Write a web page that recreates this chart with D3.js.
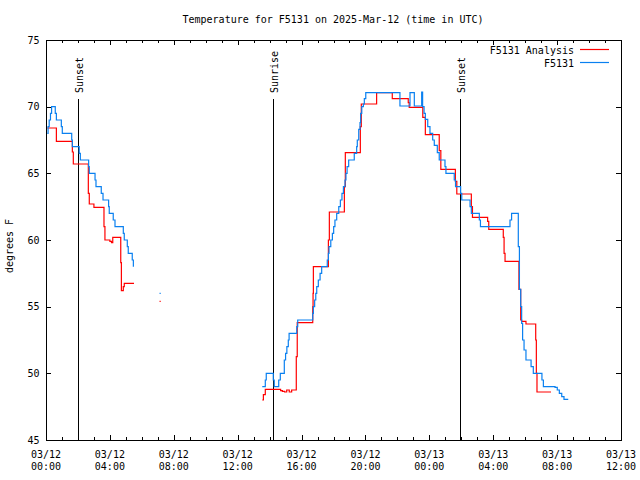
<!DOCTYPE html>
<html><head><meta charset="utf-8">
<script src="https://cdn.jsdelivr.net/npm/d3@7"></script>
<style>
body{margin:0;background:#fff}
text{font-family:"DejaVu Sans Mono","Liberation Mono",monospace;font-size:10px;fill:#000}
</style>
</head><body>
<svg id="c" width="640" height="480"></svg>
<script>
const titleText = "Temperature for F5131 on 2025-Mar-12 (time in UTC)";
const yLabel = "degrees F";
const seriesNames = ["F5131 Analysis", "F5131"];
const seriesColors = ["#ff0000", "#0a80f0"];
const startTime = "2025-03-12T00:00:00Z";
const endTime = "2025-03-13T12:00:00Z";
const yTicks = [45, 50, 55, 60, 65, 70, 75];
const sunNames = ["Sunset", "Sunrise", "Sunset"];
const sunHours = [2.00, 14.21, 25.92];

// hours since 03/12 00:00 UTC ; null = gap
const analysisHours = [0.08,0.65,1.65,1.71,2.65,2.71,3.00,3.63,3.69,4.00,4.10,4.18,4.68,4.72,4.84,4.90,5.51,5.60,
  7.11,7.18,7.25,
  13.54,13.61,13.73,14.69,14.80,14.94,15.07,15.23,15.38,15.67,15.73,16.70,16.72,16.74,17.68,17.74,18.68,18.74,
  19.68,19.74,20.70,21.68,22.68,22.74,23.59,23.75,24.62,24.72,25.63,25.72,26.63,26.70,27.65,27.72,28.63,28.68,
  28.74,29.61,29.72,29.78,30.05,30.66,30.70,30.74,31.62];
const analysisTemps = [68.4,67.4,66.6,65.7,63.5,62.7,62.45,61.0,60.0,59.9,59.8,60.2,58.3,56.2,56.5,56.75,56.75,null,
  55.4,55.4,null,
  48.0,48.4,48.8,48.7,48.65,48.6,48.75,48.6,48.75,51.25,53.8,55.0,56.0,58.0,60.0,62.1,64.0,66.55,
  68.5,70.2,71.05,70.6,70.3,69.95,69.2,67.9,66.7,65.3,64.4,63.45,62.5,61.7,61.4,60.8,60.2,59.0,
  58.4,56.3,54.0,53.9,53.7,52.5,50.0,48.6,48.6];

const obsHours = [0.08,0.13,0.20,0.28,0.35,0.58,0.65,0.96,1.02,1.61,1.65,2.08,2.15,2.67,2.71,3.07,3.13,3.46,3.57,
  3.92,3.96,4.21,4.32,4.84,4.90,5.09,5.15,5.40,5.47,5.55,
  7.11,7.18,7.25,
  13.54,13.73,13.79,14.23,14.29,14.57,14.67,14.92,15.00,15.08,15.17,15.22,15.70,15.76,16.70,16.74,16.82,16.89,
  16.95,17.05,17.16,17.26,17.61,17.68,17.72,17.83,17.93,18.01,18.09,18.20,18.33,18.43,18.53,18.62,18.72,18.78,
  18.85,18.95,19.30,19.45,19.49,19.58,19.66,19.70,19.77,19.87,19.93,20.02,22.16,22.79,23.06,23.52,23.58,23.67,
  23.75,23.90,24.04,24.21,24.31,24.50,24.62,24.98,25.04,25.56,25.64,25.96,26.03,26.55,26.63,27.13,27.20,29.05,
  29.15,29.57,29.64,29.72,29.78,29.84,29.93,30.05,30.37,30.51,31.05,31.14,31.87,32.01,32.14,32.29,32.43,32.66];
const obsTemps = [68.0,68.5,69.0,69.5,70.0,69.5,69.0,68.5,68.0,67.5,67.0,66.5,66.0,65.5,65.0,64.5,64.0,63.5,63.0,
  62.5,62.0,61.5,61.0,60.5,60.0,59.5,59.0,58.5,58.0,null,
  56.0,56.0,null,
  49.0,49.5,50.0,49.5,49.0,49.5,50.0,51.0,51.5,52.0,52.5,53.0,53.5,54.0,54.5,55.0,55.5,56.0,
  56.5,57.0,57.5,58.0,58.5,59.0,59.5,60.0,60.5,61.0,61.5,62.0,62.5,63.0,63.5,64.0,64.5,65.0,
  65.5,66.0,66.5,67.0,67.5,68.3,68.8,69.5,70.0,70.2,70.6,71.05,70.05,71.05,70.05,71.1,70.0,69.5,
  69.05,68.5,68.0,67.5,67.1,66.55,66.0,65.5,65.0,64.5,64.0,63.5,63.0,62.5,62.0,61.5,61.0,61.5,
  62.0,59.5,56.3,55.0,53.75,52.5,51.75,51.0,50.5,50.0,49.5,49.0,48.95,48.75,48.5,48.25,48.05,48.0];

const t0 = new Date(startTime).getTime();
const toDate = h => new Date(t0 + h * 3600e3);

const svg = d3.select("#c");
const L = 46, R = 621, T = 40, B = 440;
const x = d3.scaleUtc().domain([new Date(startTime), new Date(endTime)]).range([L, R]);
const y = d3.scaleLinear().domain([45, 75]).range([B, T]);

// ticks
const minorTicks = x.ticks(d3.utcHour.every(1));
const majorTicks = x.ticks(d3.utcHour.every(4));
const g = svg.append("g").attr("shape-rendering", "crispEdges").attr("stroke", "#000");
minorTicks.forEach(d => {
  const px = Math.round(x(d)) + 0.5;
  const isMajor = majorTicks.some(m => +m === +d);
  const len = isMajor ? 5 : 3;
  g.append("line").attr("x1", px).attr("x2", px).attr("y1", B).attr("y2", B - len);
  g.append("line").attr("x1", px).attr("x2", px).attr("y1", T).attr("y2", T + len);
});
yTicks.forEach(v => {
  const py = Math.round(y(v)) + 0.5;
  g.append("line").attr("x1", L).attr("x2", L + 5).attr("y1", py).attr("y2", py);
  g.append("line").attr("x1", R).attr("x2", R - 5).attr("y1", py).attr("y2", py);
});

// tick labels
const fDay = d3.utcFormat("%m/%d"), fTime = d3.utcFormat("%H:%M");
majorTicks.forEach(d => {
  const t = svg.append("text").attr("text-anchor", "middle");
  t.append("tspan").attr("x", x(d)).attr("y", 458).text(fDay(d));
  t.append("tspan").attr("x", x(d)).attr("y", 470).text(fTime(d));
});
yTicks.forEach(v => {
  svg.append("text").attr("x", 39.5).attr("y", y(v) + 3.6).attr("text-anchor", "end").text(v);
});

// sun lines
sunHours.forEach((h, i) => {
  const px = Math.round(x(toDate(h))) + 0.5;
  svg.append("line").attr("x1", px).attr("x2", px).attr("y1", 99).attr("y2", B)
    .attr("stroke", "#000").attr("shape-rendering", "crispEdges");
  svg.append("text").attr("transform", `translate(${px + 4},93) rotate(-90)`)
    .attr("text-anchor", "start").text(sunNames[i]);
});

// data lines
const mk = (hs, vs) => hs.map((h, i) => ({ t: toDate(h), v: vs[i] }));
const line = d3.line().defined(d => d.v != null).x(d => x(d.t)).y(d => y(d.v)).curve(d3.curveStepAfter);
const series = [mk(analysisHours, analysisTemps), mk(obsHours, obsTemps)];
series.forEach((s, i) => {
  svg.append("path").datum(s).attr("d", line).attr("fill", "none")
    .attr("stroke", seriesColors[i]).attr("stroke-width", 1.2);
});

// border
svg.append("rect").attr("x", L + 0.5).attr("y", T + 0.5).attr("width", R - L).attr("height", B - T)
  .attr("fill", "none").attr("stroke", "#000").attr("shape-rendering", "crispEdges");

// legend
seriesNames.forEach((n, i) => {
  const ly = 49.5 + i * 13;
  svg.append("text").attr("x", 574).attr("y", ly + 4).attr("text-anchor", "end").text(n);
  svg.append("line").attr("x1", 580).attr("x2", 609).attr("y1", ly).attr("y2", ly)
    .attr("stroke", seriesColors[i]).attr("stroke-width", 1.2);
});

// title & y label
svg.append("text").attr("x", 333).attr("y", 23).attr("text-anchor", "middle").text(titleText);
svg.append("text").attr("transform", "translate(13,246) rotate(-90)").attr("text-anchor", "middle").text(yLabel);
</script>
</body></html>
